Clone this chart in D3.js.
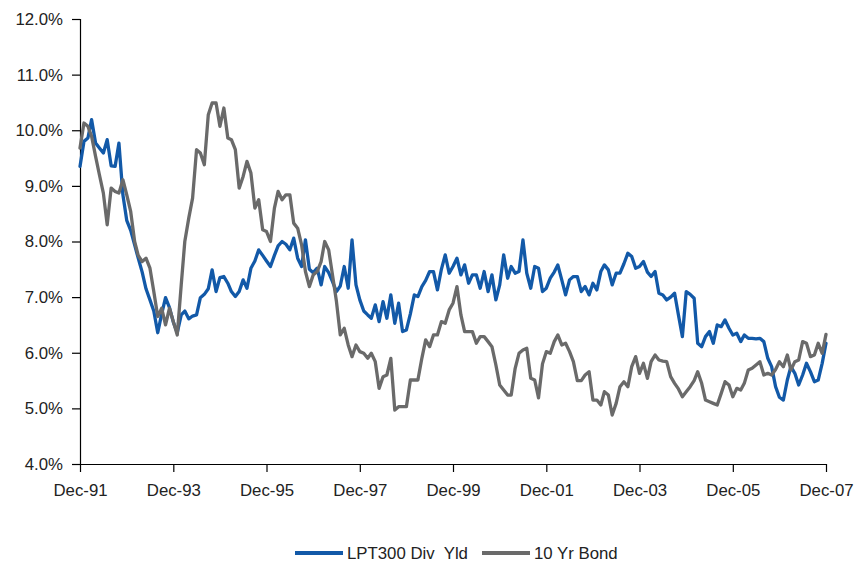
<!DOCTYPE html>
<html>
<head>
<meta charset="utf-8">
<script src="https://cdn.jsdelivr.net/npm/d3@7"></script>
<style>
  html, body { margin: 0; padding: 0; background: #ffffff; }
  svg { display: block; }
  text { font-family: "Liberation Sans", Arial, sans-serif; }
</style>
</head>
<body>
<script>
// ---- Data (monthly, Dec-1991 .. Dec-2007), values in percent ----
const firstMonth = "1991-12";
const lastMonth = "2007-12";

const lptDivYield = [
  9.35, 9.80, 9.86, 10.19, 9.77, 9.68, 9.59, 9.83, 9.36, 9.35,
  9.77, 8.84, 8.38, 8.20, 7.94, 7.70, 7.45, 7.15, 6.95, 6.75,
  6.36, 6.70, 6.99, 6.81, 6.55, 6.36, 6.68, 6.75, 6.61, 6.66,
  6.68, 6.99, 7.05, 7.15, 7.49, 7.10, 7.35, 7.37, 7.25, 7.10,
  7.01, 7.10, 7.31, 7.16, 7.52, 7.65, 7.85, 7.75, 7.65, 7.55,
  7.75, 7.92, 8.00, 7.95, 7.85, 8.06, 7.70, 7.55, 8.03, 7.50,
  7.44, 7.52, 7.22, 7.55, 7.44, 7.28, 7.10, 7.20, 7.55, 7.16,
  8.03, 7.22, 6.95, 6.75, 6.68, 6.62, 6.86, 6.56, 6.92, 6.62,
  7.04, 6.53, 6.89, 6.38, 6.41, 6.70, 7.04, 7.01, 7.19, 7.30,
  7.46, 7.46, 7.13, 7.50, 7.76, 7.43, 7.55, 7.70, 7.40, 7.58,
  7.25, 7.40, 7.40, 7.16, 7.46, 7.10, 7.40, 6.95, 7.22, 7.76,
  7.34, 7.55, 7.43, 7.46, 8.03, 7.43, 7.16, 7.55, 7.52, 7.10,
  7.16, 7.34, 7.45, 7.58, 7.31, 7.04, 7.31, 7.37, 7.37, 7.10,
  7.19, 7.04, 7.25, 7.13, 7.46, 7.58, 7.49, 7.22, 7.43, 7.43,
  7.60, 7.79, 7.73, 7.52, 7.55, 7.64, 7.45, 7.37, 7.46, 7.07,
  7.04, 6.95, 7.00, 7.07, 6.68, 6.29, 7.10, 7.05, 6.98, 6.17,
  6.11, 6.29, 6.38, 6.17, 6.50, 6.47, 6.59, 6.44, 6.32, 6.35,
  6.20, 6.32, 6.26, 6.26, 6.25, 6.26, 6.20, 5.90, 5.75, 5.39,
  5.20, 5.15, 5.51, 5.75, 5.63, 5.42, 5.60, 5.81, 5.66, 5.48,
  5.51, 5.81, 6.17
];

const tenYrBond = [
  9.68, 10.13, 10.07, 9.89, 9.53, 9.20, 8.87, 8.30, 8.96, 8.90,
  8.87, 9.11, 8.84, 8.54, 8.00, 7.75, 7.64, 7.70, 7.52, 7.10,
  6.65, 6.80, 6.50, 6.80, 6.56, 6.32, 7.22, 8.00, 8.42, 8.78,
  9.65, 9.59, 9.38, 10.28, 10.49, 10.49, 10.07, 10.40, 9.86, 9.83,
  9.65, 8.96, 9.17, 9.44, 9.23, 8.60, 8.75, 8.21, 8.18, 8.00,
  8.60, 8.90, 8.75, 8.84, 8.84, 8.33, 8.24, 7.94, 7.46, 7.19,
  7.40, 7.46, 7.64, 8.00, 7.85, 7.40, 6.92, 6.32, 6.44, 6.14,
  5.93, 6.14, 6.02, 5.99, 5.90, 5.99, 5.84, 5.36, 5.57, 5.60,
  5.90, 4.97, 5.03, 5.03, 5.03, 5.51, 5.51, 5.51, 5.90, 6.23,
  6.11, 6.32, 6.32, 6.56, 6.53, 6.77, 6.89, 7.19, 6.68, 6.38,
  6.38, 6.38, 6.17, 6.29, 6.29, 6.20, 6.11, 5.78, 5.42, 5.33,
  5.24, 5.24, 5.72, 5.99, 6.05, 6.08, 5.54, 5.51, 5.19, 5.80,
  6.02, 5.99, 6.20, 6.32, 6.14, 6.17, 6.02, 5.84, 5.50, 5.50,
  5.60, 5.66, 5.15, 5.15, 5.06, 5.30, 5.24, 4.88, 5.09, 5.39,
  5.48, 5.39, 5.75, 5.93, 5.63, 5.81, 5.54, 5.84, 5.96, 5.87,
  5.85, 5.84, 5.57, 5.45, 5.35, 5.21, 5.30, 5.39, 5.50, 5.66,
  5.45, 5.15, 5.12, 5.09, 5.06, 5.27, 5.48, 5.42, 5.21, 5.36,
  5.33, 5.45, 5.69, 5.72, 5.78, 5.84, 5.60, 5.63, 5.60, 5.70,
  5.84, 5.75, 5.96, 5.69, 5.84, 5.87, 6.20, 6.17, 5.93, 5.96,
  6.17, 5.99, 6.33
];

const seriesNames = ["LPT300 Div  Yld", "10 Yr Bond"];
const seriesColors = ["#1259a8", "#6a6a6a"];
const yTickValues = [4, 5, 6, 7, 8, 9, 10, 11, 12];
const xTickLabels = ["Dec-91", "Dec-93", "Dec-95", "Dec-97", "Dec-99", "Dec-01", "Dec-03", "Dec-05", "Dec-07"];

// ---- Layout ----
const W = 856, H = 565;
const margin = { left: 80, right: 30, top: 19, bottom: 101 };

const parseMonth = d3.timeParse("%Y-%m");
const months = d3.timeMonth.range(parseMonth(firstMonth), d3.timeMonth.offset(parseMonth(lastMonth), 1));
const parseLabel = d3.timeParse("%b-%y");
const xTickDates = xTickLabels.map(s => parseLabel(s));

const svg = d3.select("body").append("svg").attr("width", W).attr("height", H);

const x = d3.scaleTime()
  .domain([months[0], months[months.length - 1]])
  .range([margin.left, W - margin.right - 0]);
const y = d3.scaleLinear()
  .domain([4, 12])
  .range([H - margin.bottom, margin.top]);

// Axes
const fontSize = "16.8px";
const textColor = "#222";

const yAxis = svg.append("g")
  .attr("transform", `translate(${margin.left},0)`)
  .call(d3.axisLeft(y).tickValues(yTickValues).tickSize(8).tickPadding(9)
    .tickFormat(d => d.toFixed(1) + "%"));
yAxis.selectAll("text").style("font-size", fontSize).attr("fill", textColor);
yAxis.selectAll("line, path").attr("stroke", "#000").attr("stroke-width", 1.2);
yAxis.select(".domain").attr("d", `M0.5,${y(12)}V${y(4)}`);

const xAxis = svg.append("g")
  .attr("transform", `translate(0,${y(4)})`)
  .call(d3.axisBottom(x).tickValues(xTickDates).tickSize(8).tickPadding(12)
    .tickFormat((d, i) => xTickLabels[i]));
xAxis.selectAll("text").style("font-size", fontSize).attr("fill", textColor);
xAxis.selectAll("line, path").attr("stroke", "#000").attr("stroke-width", 1.2);
xAxis.select(".domain").attr("d", `M${x.range()[0]},0.5H${x.range()[1]}`);

// Lines
const line = d3.line()
  .x((d, i) => x(months[i]))
  .y(d => y(d));

[lptDivYield, tenYrBond].forEach((vals, k) => {
  svg.append("path")
    .datum(vals)
    .attr("fill", "none")
    .attr("stroke", seriesColors[k])
    .attr("stroke-width", 3.3)
    .attr("stroke-linejoin", "round")
    .attr("stroke-linecap", "round")
    .attr("d", line);
});

// Legend
const legend = svg.append("g").attr("transform", "translate(295,553)");
const legendItems = [
  { name: seriesNames[0], color: seriesColors[0], x: 0 },
  { name: seriesNames[1], color: seriesColors[1], x: 187 }
];
legendItems.forEach(it => {
  const g = legend.append("g").attr("transform", `translate(${it.x},0)`);
  g.append("line").attr("x1", 0).attr("x2", 48).attr("y1", 0).attr("y2", 0)
    .attr("stroke", it.color).attr("stroke-width", 4);
  g.append("text").attr("x", 52).attr("y", 0).attr("dy", "0.35em")
    .style("font-size", fontSize).attr("fill", textColor)
    .style("white-space", "pre")
    .text(it.name);
});
</script>
</body>
</html>
